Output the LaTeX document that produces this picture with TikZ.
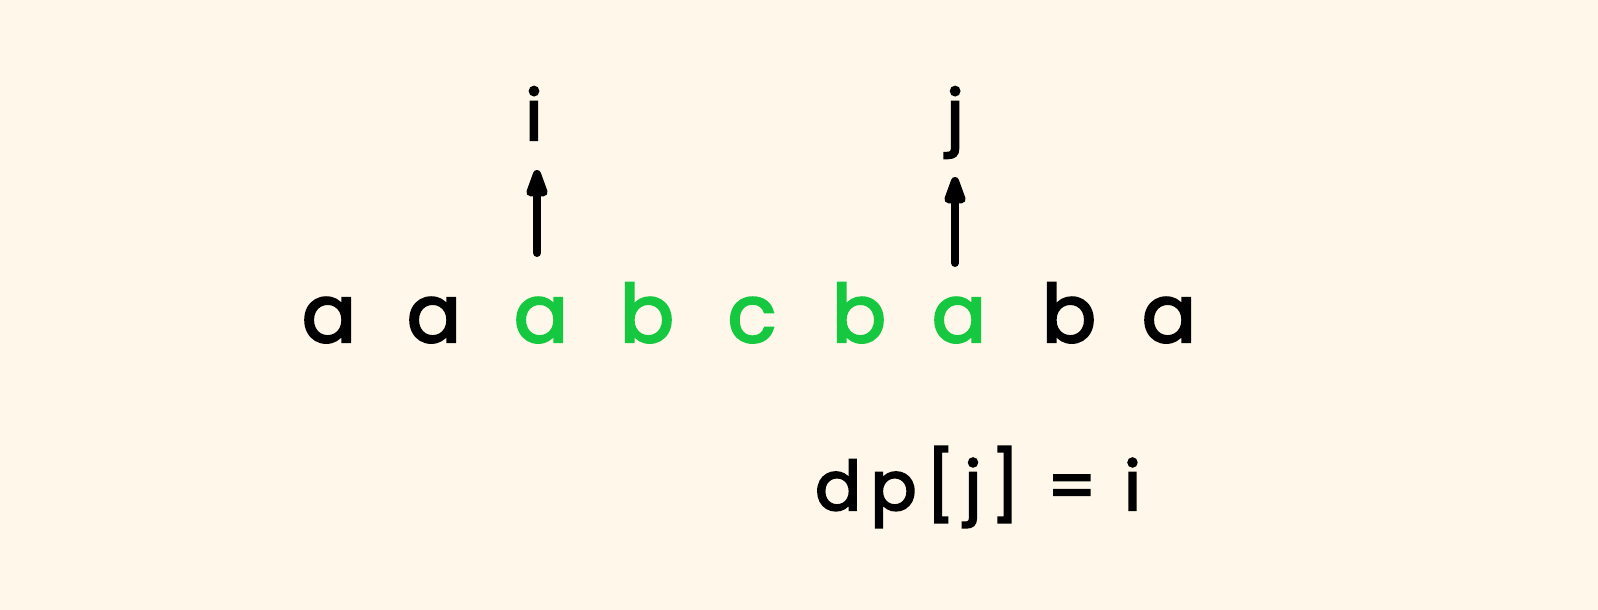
\documentclass[tikz,border=0pt]{standalone}
\usepackage{fontspec}
\setmainfont{Poppins}
\newfontfamily\hand[FakeBold=3]{Poppins}
\newfontfamily\dpfont[LetterSpace=14,FakeBold=3]{Poppins}
\usetikzlibrary{arrows.meta}
\definecolor{bg}{HTML}{FFF8EA}
\definecolor{grn}{RGB}{22,200,64}
\tikzset{
  ch/.style={anchor=base, inner sep=0pt, font=\fontsize{80}{90}\hand},
  lab/.style={anchor=base, inner sep=0pt, font=\fontsize{70}{80}\hand},
  arr/.style={line width=8pt, line cap=round, -{Triangle[width=22pt,length=36pt,round]}}
}
\begin{document}
\begin{tikzpicture}[x=1pt,y=-1pt]
\fill[bg] (0,0) rectangle (1598,610);
\useasboundingbox (0,0) rectangle (1598,610);
% string
\node[ch] (s1) at (329,342) {a};
\node[ch] (s2) at (434,342) {a};
\node[ch,grn] (s3) at (541,342) {a};
\node[ch,grn] (s4) at (647,342) {b};
\node[ch,grn] (s5) at (752,342) {c};
\node[ch,grn] (s6) at (859,342) {b};
\node[ch,grn] (s7) at (959,342) {a};
\node[ch] (s8) at (1069,342) {b};
\node[ch] (s9) at (1169,342) {a};
% labels
\node[lab] (li) at (534,140) {i};
\node[lab] (lj) at (955,140) {j};
% arrows
\coordinate (ai0) at (537,253);
\coordinate (ai1) at (537,170);
\coordinate (aj0) at (955,263);
\coordinate (aj1) at (955,177);
\draw[arr] (ai0) -- (ai1);
\draw[arr] (aj0) -- (aj1);
% equation
\node[lab, font=\fontsize{68}{80}\dpfont] (eq) at (978,510) {dp[j] = i};
\end{tikzpicture}
\end{document}
